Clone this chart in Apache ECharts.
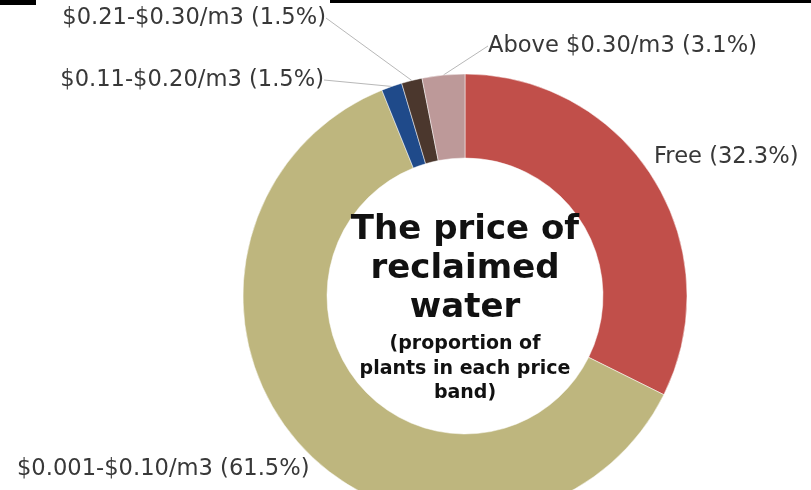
<!DOCTYPE html>
<html><head><meta charset="utf-8">
<script src="https://cdn.jsdelivr.net/npm/echarts@6/dist/echarts.min.js"></script>
<style>html,body{margin:0;padding:0;background:#fff}#c{width:811px;height:490px}</style>
</head><body><div id="c"></div>
<script>
const categories = ['Free', '$0.001-$0.10/m3', '$0.11-$0.20/m3', '$0.21-$0.30/m3', 'Above $0.30/m3'];
const shares = [32.3, 61.5, 1.5, 1.5, 3.1];
const colors = ['#C14F4A', '#BEB67E', '#1F4A8A', '#4B372D', '#BD9999'];
const showLine = [false, false, true, true, true];
const titleLines = ['The price of', 'reclaimed', 'water'];
const subLines = ['(proportion of', 'plants in each price', 'band)'];

// label placement (layout only)
const labelPlace = [
  {x: 654, y: 157, align: 'left'},
  {x: 17, y: 469, align: 'left'},
  {x: 324, y: 80, align: 'right'},
  {x: 326, y: 18, align: 'right'},
  {x: 488, y: 46, align: 'left'}
];

const chart = echarts.init(document.getElementById('c'), null, {renderer: 'canvas'});
const data = categories.map((n, i) => ({
  name: n,
  value: shares[i],
  itemStyle: {color: colors[i]},
  labelLine: {show: showLine[i]}
}));

chart.setOption({
  animation: false,
  backgroundColor: '#ffffff',
  graphic: [
    {type: 'rect', shape: {x: 0, y: 0, width: 36, height: 5}, style: {fill: '#000'}},
    {type: 'rect', shape: {x: 330, y: 0, width: 481, height: 3}, style: {fill: '#000'}},
    {type: 'text', x: 465, y: 211, z: 10, style: {
      text: titleLines.join('\n'), align: 'center', verticalAlign: 'top',
      font: 'bold 34px "DejaVu Sans"', lineHeight: 39, fill: '#111'}},
    {type: 'text', x: 465, y: 332, z: 10, style: {
      text: subLines.join('\n'), align: 'center', verticalAlign: 'top',
      font: 'bold 19px "DejaVu Sans"', lineHeight: 24.5, fill: '#111'}}
  ],
  series: [{
    type: 'pie',
    center: [465, 296],
    radius: [138, 222],
    startAngle: 90,
    clockwise: true,
    avoidLabelOverlap: false,
    itemStyle: {borderColor: '#ffffff', borderWidth: 0.5},
    label: {
      show: true,
      position: 'outside',
      formatter: '{b} ({c}%)',
      fontFamily: 'DejaVu Sans',
      fontSize: 22.6,
      color: '#383838'
    },
    labelLine: {show: true, length: 10, length2: 0, lineStyle: {color: '#b8b8b8', width: 1}},
    labelLayout: function (p) {
      const L = labelPlace[p.dataIndex];
      return {x: L.x, y: L.y, align: L.align, verticalAlign: 'middle'};
    },
    data: data
  }]
});
</script>
</body></html>
